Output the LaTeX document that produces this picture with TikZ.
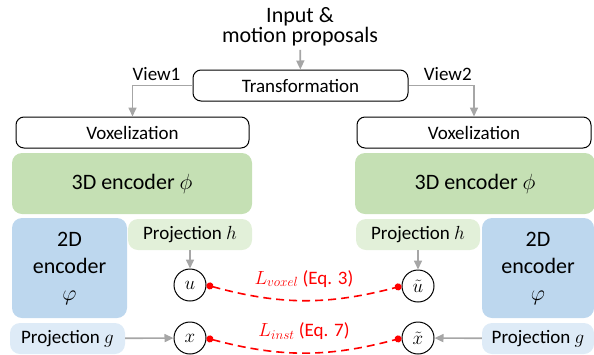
\RequirePackage{fix-cm}
\documentclass[tikz,border=0pt]{standalone}
\usepackage{fontspec}
\setmainfont{Carlito}
\usepackage{tikz}
\usetikzlibrary{arrows.meta}

\definecolor{encgreen}{HTML}{C5E0B4}
\definecolor{projgreen}{HTML}{E2F0D9}
\definecolor{encblue}{HTML}{BDD7EE}
\definecolor{projblue}{HTML}{DEEBF7}
\definecolor{flowgray}{HTML}{A6A6A6}

\begin{document}
\begin{tikzpicture}[
  x=1pt, y=-1pt,
  font=\fontsize{19}{21}\selectfont,
  stage/.style={draw, line width=1pt, rounded corners=8pt, minimum height=31pt,
                inner sep=0pt},
  enc/.style={rounded corners=10pt, inner sep=0pt, align=center,
              font=\fontsize{22}{27}\selectfont},
  proj/.style={rounded corners=10pt, inner sep=0pt, minimum height=31pt},
  feat/.style={draw, circle, line width=1pt, minimum size=32pt, inner sep=0pt},
  flow/.style={draw=flowgray, line width=1.6pt,
               -{Triangle[length=9pt, width=8pt]}},
  loss/.style={red, dashed, line width=1.6pt, dash pattern=on 8pt off 5pt,
               {Circle[length=7pt]}-{Circle[length=7pt]}},
]
\useasboundingbox (0,0) rectangle (594,354);

\node[align=center, font=\fontsize{22}{20}\selectfont] (input) at (300,27)
  {Input \&\\motion proposals};
\node[stage, minimum width=215pt] (trans) at (300.5,85.5) {Transformation};

\node[stage, minimum width=233pt] (vox1) at (132.5,132.5) {Voxelization};
\node[stage, minimum width=234pt] (vox2) at (474,132.5) {Voxelization};

\node[enc, fill=encgreen, minimum width=240pt, minimum height=61pt] (enc3a)
  at (132,183.5) {3D encoder $\phi$};
\node[enc, fill=encgreen, minimum width=240pt, minimum height=61pt] (enc3b)
  at (475,183.5) {3D encoder $\phi$};

\node[enc, fill=encblue, minimum width=115pt, minimum height=100pt] (enc2a)
  at (69.5,268) {2D\\encoder\\$\varphi$};
\node[enc, fill=encblue, minimum width=112pt, minimum height=100pt] (enc2b)
  at (538,268) {2D\\encoder\\$\varphi$};

\node[proj, fill=projgreen, minimum width=124pt] (projh1) at (190,234.5)
  {Projection $h$};
\node[proj, fill=projgreen, minimum width=124pt] (projh2) at (418,234.5)
  {Projection $h$};
\node[proj, fill=projblue, minimum width=115pt] (projg1) at (67.5,338.5)
  {Projection $g$};
\node[proj, fill=projblue, minimum width=112pt] (projg2) at (538,338.5)
  {Projection $g$};

\node[feat] (u) at (190,285) {$u$};
\node[feat] (ut) at (418,286) {$\tilde{u}$};
\node[feat] (x) at (190,338) {$x$};
\node[feat] (xt) at (418,338) {$\tilde{x}$};

\draw[flow] (input) -- (trans);
\draw[flow] (trans.west) -| node[pos=0.3, above=1pt] {View1} (vox1.north);
\draw[flow] (trans.east) -| node[pos=0.3, above=1pt] {View2} (vox2.north);
\draw[flow] (projh1) -- (u);
\draw[flow] (projh2) -- (ut);
\draw[flow] (projg1) -- (x);
\draw[flow] (projg2) -- (xt);

% contrastive losses
\draw[loss] (u.east) to[bend right=15]
  node[above=9pt, text=red] {$L_{voxel}$ (Eq. 3)} (ut.west);
\draw[loss] (x.east) to[bend right=15]
  node[above=9pt, text=red] {$L_{inst}$ (Eq. 7)} (xt.west);

\end{tikzpicture}
\end{document}
